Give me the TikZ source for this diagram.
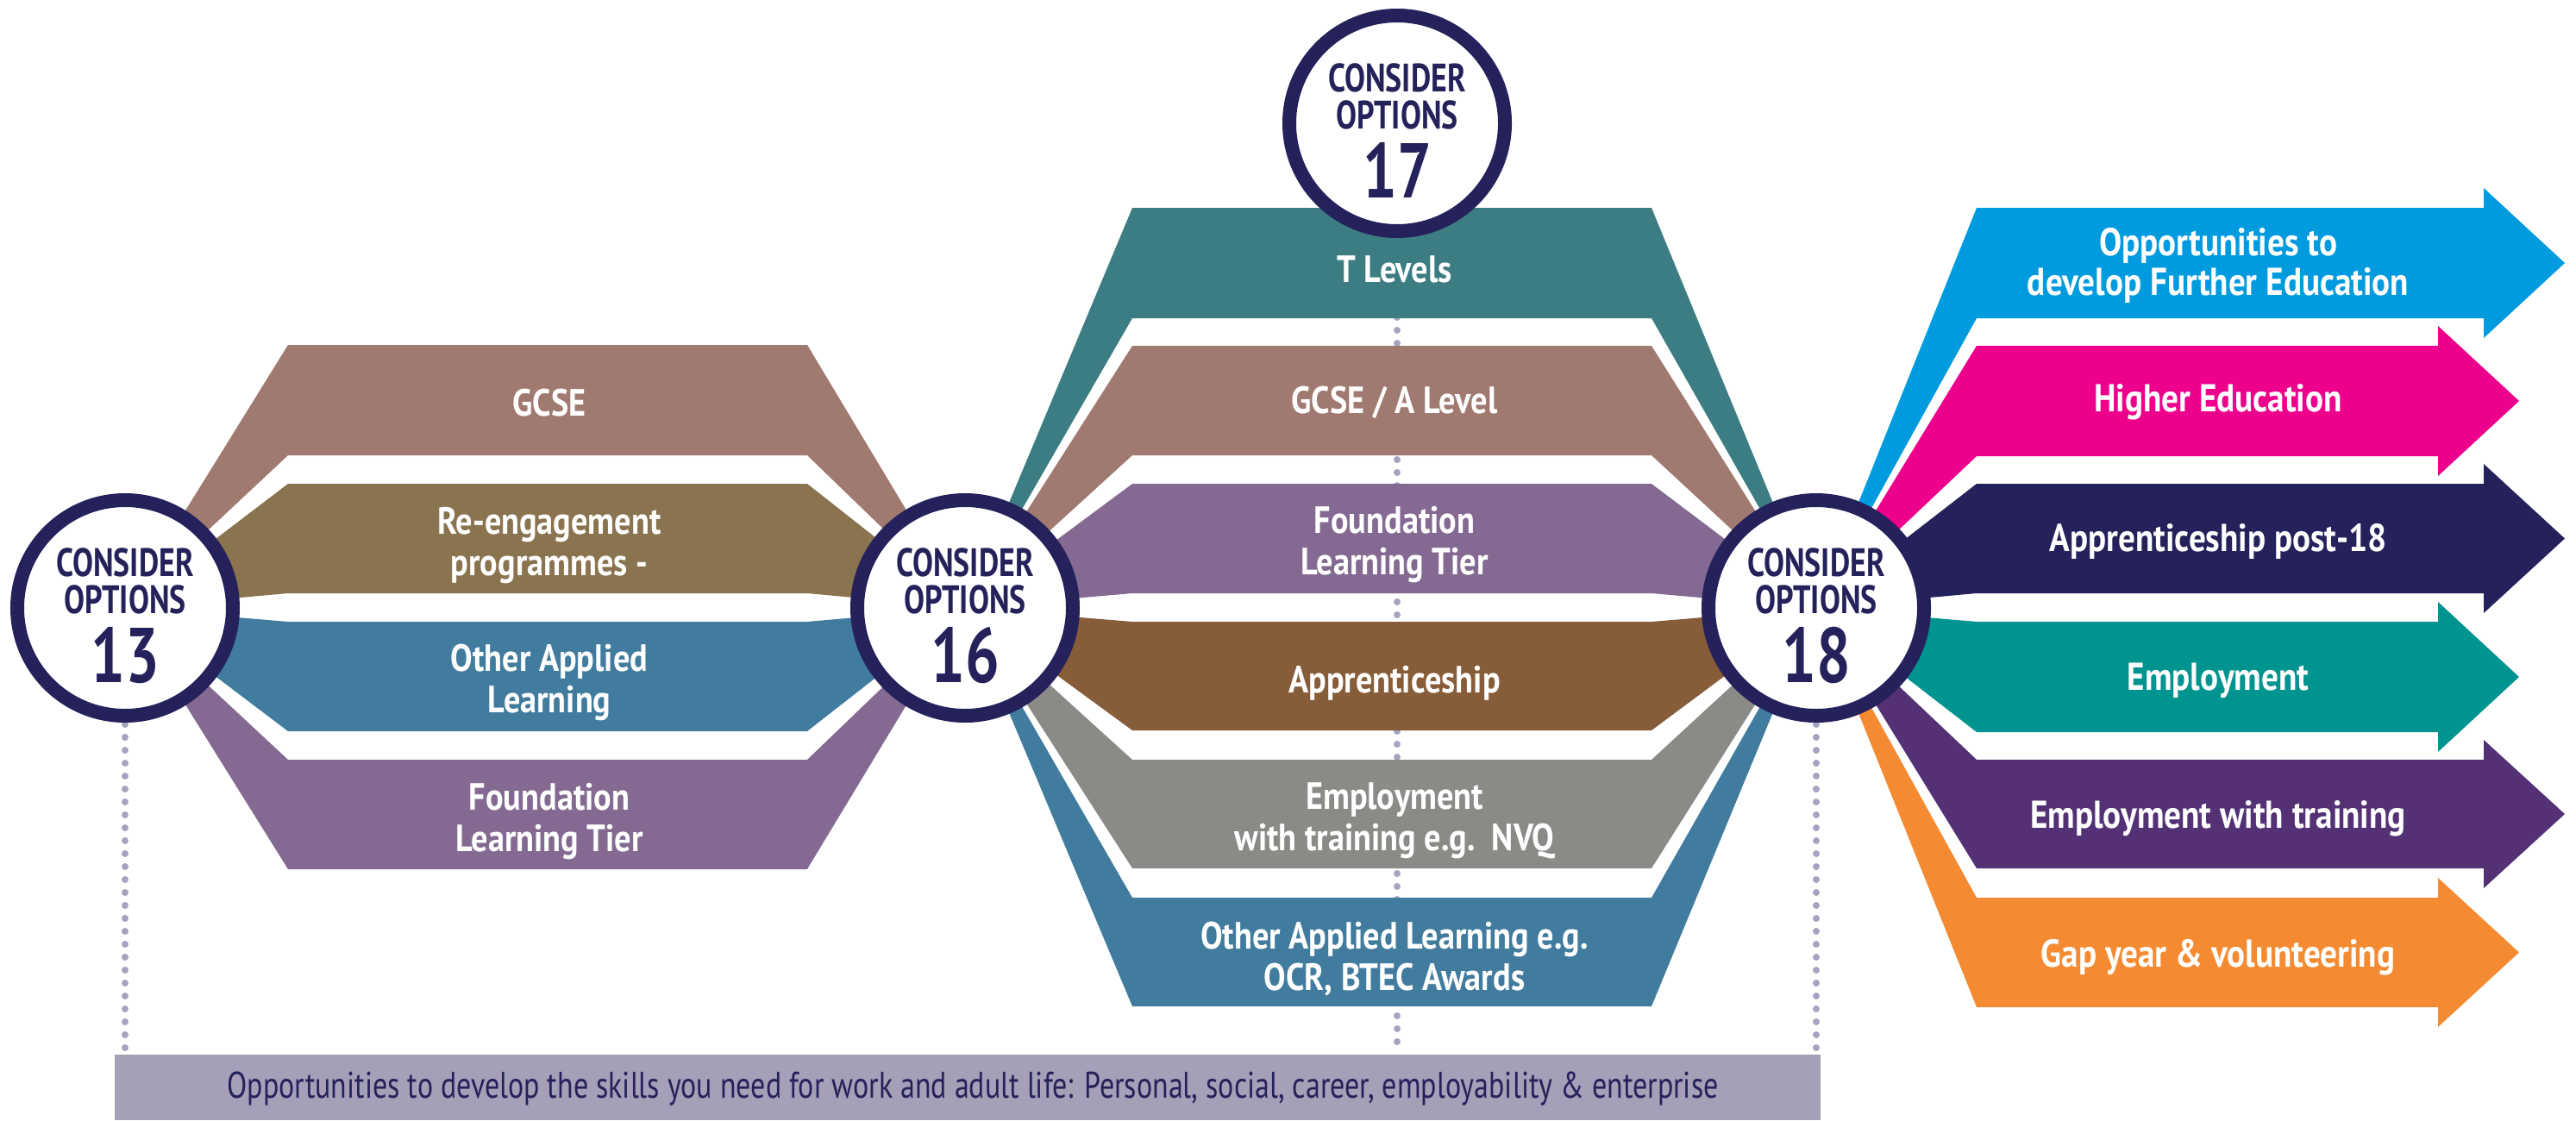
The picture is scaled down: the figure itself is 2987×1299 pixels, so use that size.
\documentclass[tikz,border=0pt]{standalone}
\usepackage{fontspec}
\newfontfamily\condc{PT Sans}[FakeStretch=0.78]
\newfontfamily\condb{PT Sans}[FakeStretch=0.87]
\newfontfamily\condr{PT Sans}[FakeStretch=0.79]
\definecolor{navy}{HTML}{25215A}
\definecolor{cGCSE}{HTML}{A07A70}
\definecolor{cReeng}{HTML}{8A734F}
\definecolor{cOAL}{HTML}{417C9E}
\definecolor{cFLT}{HTML}{846A92}
\definecolor{cTL}{HTML}{3C7D83}
\definecolor{cApp}{HTML}{875C39}
\definecolor{cEmpT}{HTML}{8C8A87}
\definecolor{aBlue}{HTML}{009BDE}
\definecolor{aMag}{HTML}{EC008C}
\definecolor{aTeal}{HTML}{009490}
\definecolor{aPurp}{HTML}{533174}
\definecolor{aOrg}{HTML}{F48B32}
\definecolor{barc}{HTML}{A59FB8}
\definecolor{dotc}{HTML}{A6A3C0}
\newcommand\bandpoly[7]{%
  \fill[#1] (#2) -- (#4,#6) -- (#5,#6) -- (#3) -- (#5,#7) -- (#4,#7) -- cycle;}
\newcommand\arrowpoly[6]{%
  \fill[#1] (#2) -- (2292,#5) -- (#3,#5) -- (#3,#5-23) -- (#4,#5/2+#6/2) -- (#3,#6+23) -- (#3,#6) -- (2292,#6) -- cycle;}
\tikzset{
  ring/.style={circle, draw=navy, line width=16pt, fill=white, minimum size=250pt, inner sep=0pt},
  circtxt/.style={text=navy, font=\condc\bfseries\fontsize{46}{46}\selectfont, anchor=base, inner sep=0pt},
  circnum/.style={text=navy, font=\condc\bfseries\fontsize{90}{90}\selectfont, anchor=base, inner sep=0pt},
  bandtxt/.style={text=white, font=\condb\bfseries\fontsize{44}{48}\selectfont, align=center, anchor=base, inner sep=0pt},
  arrtxt/.style={text=white, font=\condb\bfseries\fontsize{45}{46}\selectfont, align=center, anchor=base, inner sep=0pt},
  barbox/.style={fill=barc, minimum width=1978pt, minimum height=76pt, inner sep=0pt},
  bartxt/.style={text=navy, font=\condr\fontsize{43}{43}\selectfont, anchor=base, inner sep=0pt},
  dotline/.style={draw=dotc, line width=8pt, line cap=round, dash pattern=on 0pt off 15pt}
}
\begin{document}
\begin{tikzpicture}[x=1pt,y=-1pt]
\useasboundingbox (0,0) rectangle (2987,1299);
\coordinate (p13) at (145,705);
\coordinate (p16) at (1119,705);
\coordinate (p17) at (1620,143);
\coordinate (p18) at (2106,705);
% bottom bar
\node[barbox] (bar) at (1122,1261) {};
\node[bartxt] (bartext) at (1128,1273) {Opportunities to develop the skills you need for work and adult life: Personal, social, career, employability \& enterprise};
% dotted guides
\draw[dotline] (p13) -- (p13 |- bar.north);
\draw[dotline] (p17) -- (p17 |- bar.north);
\draw[dotline] (p18) -- (p18 |- bar.north);
% left group (13 -> 16)
\bandpoly{cGCSE}{p13}{p16}{334}{936}{400}{528}
\bandpoly{cReeng}{p13}{p16}{334}{936}{561}{688}
\bandpoly{cOAL}{p13}{p16}{334}{936}{721}{848}
\bandpoly{cFLT}{p13}{p16}{334}{936}{881}{1008}
% middle group (16 -> 18)
\bandpoly{cTL}{p16}{p18}{1313}{1915}{241}{369}
\bandpoly{cGCSE}{p16}{p18}{1313}{1915}{401}{528}
\bandpoly{cFLT}{p16}{p18}{1313}{1915}{561}{688}
\bandpoly{cApp}{p16}{p18}{1313}{1915}{721}{847}
\bandpoly{cEmpT}{p16}{p18}{1313}{1915}{881}{1007}
\bandpoly{cOAL}{p16}{p18}{1313}{1915}{1041}{1167}
% arrows from 18
\arrowpoly{aBlue}{p18}{2880}{2974}{241}{369}
\arrowpoly{aMag}{p18}{2827}{2921}{401}{529}
\arrowpoly{navy}{p18}{2880}{2974}{561}{688}
\arrowpoly{aTeal}{p18}{2827}{2921}{721}{849}
\arrowpoly{aPurp}{p18}{2880}{2974}{881}{1007}
\arrowpoly{aOrg}{p18}{2827}{2921}{1041}{1168}
% circles
\node[ring] (c13) at (p13) {};
\node[ring] (c16) at (p16) {};
\node[ring] (c17) at (p17) {};
\node[ring] (c18) at (p18) {};
\foreach \c/\n in {13/13,16/16,17/17,18/18}{
  \node[circtxt] (k\c) at ([yshift=37pt]p\c) {CONSIDER};
  \node[circtxt] (o\c) at ([yshift=-6pt]p\c) {OPTIONS};
  \node[circnum] (n\c) at ([yshift=-86pt]p\c) {\n};
}
% band texts left (two-line nodes: coordinate is last baseline)
\node[bandtxt] (tl1) at (637,482) {GCSE};
\node[bandtxt] (tl2) at (637,667) {Re-engagement\\programmes -};
\node[bandtxt] (tl3) at (637,826) {Other Applied\\Learning};
\node[bandtxt] (tl4) at (637,987) {Foundation\\Learning Tier};
% band texts middle
\node[bandtxt] (tm1) at (1617,327) {T Levels};
\node[bandtxt] (tm2) at (1617,479) {GCSE / A Level};
\node[bandtxt] (tm3) at (1617,666) {Foundation\\Learning Tier};
\node[bandtxt] (tm4) at (1617,803) {Apprenticeship};
\node[bandtxt] (tm5) at (1617,986) {Employment\\with training e.g.\ \ NVQ};
\node[bandtxt] (tm6) at (1617,1148) {Other Applied Learning e.g.\\OCR, BTEC Awards};
% arrow texts
\node[arrtxt] (ta1) at (2572,342) {Opportunities to\\develop Further Education};
\node[arrtxt] (ta2) at (2572,477) {Higher Education};
\node[arrtxt] (ta3) at (2572,639) {Apprenticeship post-18};
\node[arrtxt] (ta4) at (2572,800) {Employment};
\node[arrtxt] (ta5) at (2572,960) {Employment with training};
\node[arrtxt] (ta6) at (2572,1121) {Gap year \& volunteering};
\end{tikzpicture}
\end{document}
